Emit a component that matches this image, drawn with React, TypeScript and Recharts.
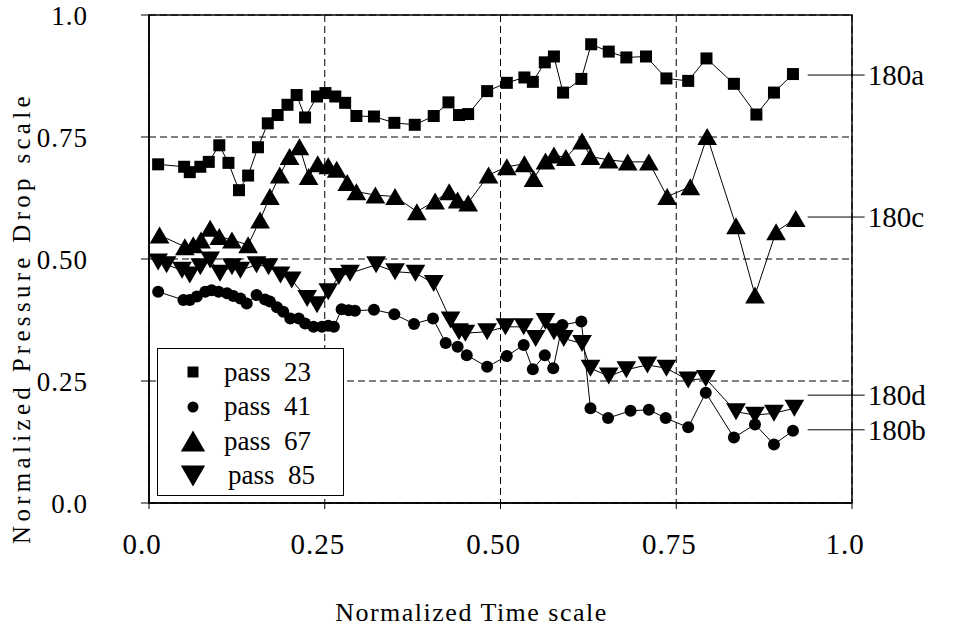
import React from 'react';
import {
  ScatterChart,
  Scatter,
  XAxis,
  YAxis,
  CartesianGrid,
  ReferenceArea,
  ReferenceLine,
  ReferenceDot,
} from 'recharts';

// normalized time / pressure drop pairs
const pass23: [number, number][] = [
  [0.013, 0.694], [0.05, 0.689], [0.058, 0.678], [0.073, 0.689], [0.085, 0.699],
  [0.1, 0.733], [0.113, 0.697], [0.128, 0.641], [0.141, 0.671], [0.155, 0.729],
  [0.169, 0.778], [0.183, 0.795], [0.197, 0.816], [0.21, 0.836], [0.222, 0.79],
  [0.239, 0.833], [0.251, 0.84], [0.265, 0.833], [0.279, 0.82], [0.295, 0.793],
  [0.32, 0.792], [0.349, 0.779], [0.378, 0.775], [0.405, 0.793], [0.426, 0.821],
  [0.441, 0.795], [0.454, 0.797], [0.481, 0.844], [0.509, 0.861], [0.534, 0.872],
  [0.546, 0.863], [0.563, 0.903], [0.576, 0.915], [0.589, 0.841], [0.615, 0.869],
  [0.629, 0.94], [0.654, 0.925], [0.679, 0.913], [0.707, 0.915], [0.736, 0.87],
  [0.767, 0.865], [0.793, 0.911], [0.832, 0.859], [0.864, 0.796], [0.889, 0.841],
  [0.916, 0.879],
];

const pass41: [number, number][] = [
  [0.013, 0.433], [0.049, 0.416], [0.058, 0.416], [0.068, 0.423], [0.08, 0.433],
  [0.089, 0.436], [0.099, 0.433], [0.111, 0.43], [0.12, 0.424], [0.13, 0.419],
  [0.139, 0.409], [0.153, 0.426], [0.165, 0.417], [0.172, 0.413], [0.182, 0.401],
  [0.191, 0.392], [0.201, 0.378], [0.213, 0.378], [0.222, 0.368], [0.234, 0.361],
  [0.246, 0.361], [0.255, 0.363], [0.263, 0.361], [0.274, 0.397], [0.284, 0.395],
  [0.293, 0.394], [0.32, 0.396], [0.349, 0.387], [0.377, 0.367], [0.404, 0.378],
  [0.422, 0.328], [0.439, 0.32], [0.452, 0.303], [0.481, 0.279], [0.509, 0.301],
  [0.533, 0.324], [0.546, 0.274], [0.563, 0.303], [0.575, 0.276], [0.588, 0.365],
  [0.615, 0.372], [0.628, 0.194], [0.653, 0.174], [0.685, 0.189], [0.711, 0.191],
  [0.735, 0.174], [0.767, 0.155], [0.792, 0.226], [0.832, 0.134], [0.862, 0.161],
  [0.889, 0.12], [0.916, 0.148],
];

const pass67: [number, number][] = [
  [0.015, 0.549], [0.051, 0.525], [0.063, 0.529], [0.074, 0.539], [0.087, 0.563],
  [0.1, 0.546], [0.118, 0.539], [0.141, 0.529], [0.158, 0.58], [0.172, 0.628],
  [0.186, 0.672], [0.2, 0.71], [0.214, 0.73], [0.227, 0.669], [0.24, 0.695],
  [0.255, 0.691], [0.267, 0.684], [0.282, 0.657], [0.295, 0.638], [0.322, 0.631],
  [0.35, 0.628], [0.381, 0.597], [0.407, 0.619], [0.427, 0.638], [0.439, 0.621],
  [0.454, 0.615], [0.483, 0.672], [0.509, 0.689], [0.534, 0.695], [0.547, 0.665],
  [0.564, 0.701], [0.576, 0.713], [0.593, 0.708], [0.616, 0.742], [0.628, 0.71],
  [0.654, 0.703], [0.681, 0.699], [0.711, 0.699], [0.737, 0.628], [0.77, 0.648],
  [0.794, 0.751], [0.835, 0.568], [0.862, 0.426], [0.892, 0.556], [0.92, 0.583],
];

const pass85: [number, number][] = [
  [0.013, 0.494], [0.025, 0.488], [0.047, 0.477], [0.058, 0.467], [0.073, 0.484],
  [0.087, 0.498], [0.101, 0.471], [0.118, 0.484], [0.13, 0.477], [0.153, 0.488],
  [0.17, 0.484], [0.187, 0.467], [0.203, 0.457], [0.225, 0.419], [0.239, 0.406],
  [0.255, 0.433], [0.27, 0.464], [0.286, 0.471], [0.323, 0.488], [0.35, 0.474],
  [0.379, 0.471], [0.405, 0.45], [0.429, 0.375], [0.441, 0.351], [0.45, 0.348],
  [0.481, 0.351], [0.507, 0.361], [0.533, 0.361], [0.55, 0.337], [0.564, 0.372],
  [0.576, 0.351], [0.59, 0.337], [0.616, 0.327], [0.628, 0.276], [0.654, 0.26],
  [0.679, 0.273], [0.709, 0.283], [0.736, 0.276], [0.767, 0.252], [0.792, 0.255],
  [0.835, 0.187], [0.862, 0.18], [0.889, 0.184], [0.918, 0.194],
];

const ticks = [0, 0.25, 0.5, 0.75, 1];
const tickLabels = ['0.0', '0.25', '0.50', '0.75', '1.0'];

// curve tags on the right: label, y level, where the leader starts
const tagNames = ['180a', '180c', '180d', '180b'];
const tagLevels = [0.877, 0.586, 0.221, 0.15];
const tagStarts = [0.937, 0.937, 0.937, 0.937];

const legendNames = ['pass  23', 'pass  41', 'pass  67', 'pass  85'];

const FONT = '"Liberation Serif", serif';

type Kind = 'square' | 'circle' | 'up' | 'down';

const Marker = ({ cx, cy, kind, size }: { cx: number; cy: number; kind: Kind; size: number }) => {
  const h = size / 2;
  if (kind === 'square') return <rect x={cx - h} y={cy - h} width={size} height={size} fill="#000" />;
  if (kind === 'circle') return <circle cx={cx} cy={cy} r={h} fill="#000" />;
  const w = size * 0.58;
  const t = size * 0.5;
  if (kind === 'up')
    return <polygon points={`${cx},${cy - t} ${cx + w},${cy + t} ${cx - w},${cy + t}`} fill="#000" />;
  return <polygon points={`${cx},${cy + t} ${cx + w},${cy - t} ${cx - w},${cy - t}`} fill="#000" />;
};

const series: { name: string; kind: Kind; size: number; pts: [number, number][] }[] = [
  { name: 'pass 23', kind: 'square', size: 12, pts: pass23 },
  { name: 'pass 41', kind: 'circle', size: 12, pts: pass41 },
  { name: 'pass 67', kind: 'up', size: 17, pts: pass67 },
  { name: 'pass 85', kind: 'down', size: 17, pts: pass85 },
];

const legendKinds: Kind[] = ['square', 'circle', 'up', 'down'];
const legendSizes = [11, 11, 21, 21];

const LegendBox = () => (
  <div
    style={{
      position: 'absolute',
      left: 157,
      top: 348,
      width: 187,
      height: 148,
      border: '1.5px solid #000',
      background: '#fff',
      boxSizing: 'border-box',
      paddingTop: 6,
    }}
  >
    {legendNames.map((n, i) => (
      <div key={n} style={{ display: 'flex', alignItems: 'center', height: 34.5 }}>
        <svg width={66} height={30}>
          <Marker cx={35} cy={15} kind={legendKinds[i]} size={legendSizes[i]} />
        </svg>
        <span style={{ fontFamily: FONT, fontSize: 27, whiteSpace: 'pre', marginLeft: i === 3 ? 4 : 0 }}>{n}</span>
      </div>
    ))}
  </div>
);

export default function App() {
  return (
    <div style={{ position: 'absolute', left: 0, top: 0, width: 958, height: 635, background: '#fff' }}>
      <ScatterChart width={958} height={635} margin={{ top: 15, right: 106, bottom: 7, left: 9 }}>
        <CartesianGrid stroke="#000" strokeWidth={1} strokeDasharray="7 4" horizontalValues={ticks} verticalValues={ticks} />
        <XAxis
          type="number"
          dataKey="x"
          domain={[0, 1]}
          ticks={ticks}
          tickFormatter={(v: number) => tickLabels[ticks.indexOf(v)]}
          height={125}
          tickSize={6}
          tickMargin={24}
          axisLine={{ stroke: '#000', strokeWidth: 1.5 }}
          tickLine={{ stroke: '#000' }}
          tick={{ fill: '#000', fontFamily: FONT, fontSize: 29, letterSpacing: 1, dx: -7 }}
          label={{
            content: ({ viewBox }: any) => (
              <text
                x={viewBox.x + viewBox.width / 2 - 29}
                y={viewBox.y + 118}
                textAnchor="middle"
                fontFamily={FONT}
                fontSize={26}
                letterSpacing={1.5}
                fill="#000"
              >
                Normalized Time scale
              </text>
            ),
          }}
        />
        <YAxis
          type="number"
          dataKey="y"
          domain={[0, 1]}
          ticks={ticks}
          tickFormatter={(v: number) => tickLabels[ticks.indexOf(v)]}
          width={140}
          tickSize={8}
          tickMargin={53}
          axisLine={{ stroke: '#000', strokeWidth: 1.5 }}
          tickLine={{ stroke: '#000' }}
          tick={{ fill: '#000', fontFamily: FONT, fontSize: 27, letterSpacing: 1 }}
          label={{
            content: ({ viewBox }: any) => {
              const cx = viewBox.x + 12;
              const cy = viewBox.y + viewBox.height / 2 + 59;
              return (
                <text
                  x={cx}
                  y={cy}
                  transform={`rotate(-90 ${cx} ${cy})`}
                  textAnchor="middle"
                  dominantBaseline="central"
                  fontFamily={FONT}
                  fontSize={25}
                  letterSpacing={4.3}
                  fill="#000"
                >
                  Normalized Pressure Drop scale
                </text>
              );
            },
          }}
        />
        <ReferenceArea x1={0} x2={1} y1={0} y2={1} fill="none" stroke="#000" strokeWidth={1.5} ifOverflow="visible" />
        {series.map((s) => (
          <Scatter
            key={s.name}
            name={s.name}
            data={s.pts.map(([x, y]) => ({ x, y }))}
            line={{ stroke: '#000', strokeWidth: 1 }}
            shape={(p: any) => <Marker cx={p.cx} cy={p.cy} kind={s.kind} size={s.size} />}
            isAnimationActive={false}
          />
        ))}
        {tagNames.map((t, i) => (
          <ReferenceLine
            key={t}
            segment={[
              { x: tagStarts[i], y: tagLevels[i] },
              { x: 1.018, y: tagLevels[i] },
            ]}
            stroke="#000"
            strokeWidth={1}
            ifOverflow="visible"
          />
        ))}
        {tagNames.map((t, i) => (
          <ReferenceDot
            key={t + 'l'}
            x={1.018}
            y={tagLevels[i]}
            r={0}
            stroke="none"
            fill="none"
            ifOverflow="visible"
            label={{ value: t, position: 'right', offset: 3, fill: '#000', fontFamily: FONT, fontSize: 29 }}
          />
        ))}
      </ScatterChart>
      <LegendBox />
    </div>
  );
}
